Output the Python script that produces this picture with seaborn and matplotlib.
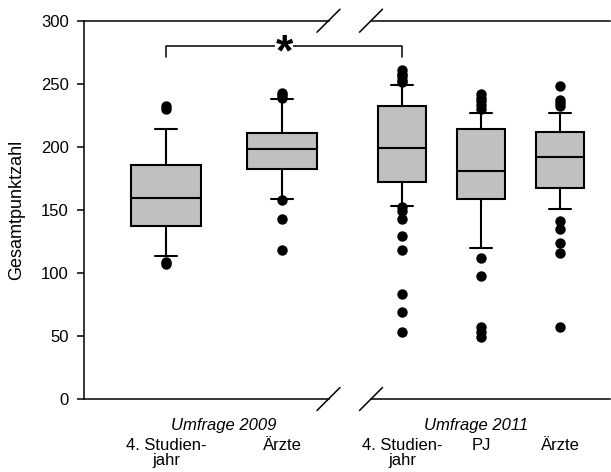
import numpy as np
import pandas as pd
import matplotlib
matplotlib.use("Agg")
import matplotlib.pyplot as plt
import matplotlib.transforms as mtransforms
from matplotlib.lines import Line2D
import seaborn as sns

# ---------------- data ----------------
groups_2009 = ["4. Studien-\njahr", "Ärzte"]
groups_2011 = ["4. Studien-\njahr", "PJ", "Ärzte"]

# five-number summaries (whisker low, Q1, median, Q3, whisker high)
whisker_low_2009 = [113.6, 158.6]
q1_2009 = [137.0, 182.2]
median_2009 = [159.6, 198.3]
q3_2009 = [185.8, 210.7]
whisker_high_2009 = [214.0, 237.7]

whisker_low_2011 = [153.3, 119.5, 150.7]
q1_2011 = [172.4, 158.6, 167.4]
median_2011 = [199.3, 180.8, 192.2]
q3_2011 = [232.4, 214.1, 211.5]
whisker_high_2011 = [249.0, 227.1, 226.6]

# single points beyond the whiskers
outliers_2009 = [
    [232, 230, 109, 107],
    [243, 241, 239, 157.5, 143, 118],
]
outliers_2011 = [
    [261, 258, 256, 253, 251, 152, 149, 143, 129, 118, 83, 69, 53],
    [242, 239, 236, 233, 230, 111.5, 97.5, 57, 53, 49],
    [248, 237, 234.5, 232, 141, 135, 124, 116, 57],
]

survey_labels = ["Umfrage 2009", "Umfrage 2011"]
y_label = "Gesamtpunktzahl"
y_ticks = [0, 50, 100, 150, 200, 250, 300]


def box_frame(groups, lo, a, m, b, hi):
    rows = []
    for g, v0, v1, v2, v3, v4 in zip(groups, lo, a, m, b, hi):
        for v in (v0, v1, v2, v3, v4):
            rows.append({"group": g, "value": v})
    return pd.DataFrame(rows)


def outlier_frame(groups, outs):
    rows = []
    for g, vals in zip(groups, outs):
        for v in vals:
            rows.append({"group": g, "value": v})
    return pd.DataFrame(rows)


box_2009 = box_frame(groups_2009, whisker_low_2009, q1_2009, median_2009, q3_2009, whisker_high_2009)
box_2011 = box_frame(groups_2011, whisker_low_2011, q1_2011, median_2011, q3_2011, whisker_high_2011)
out_2009 = outlier_frame(groups_2009, outliers_2009)
out_2011 = outlier_frame(groups_2011, outliers_2011)

# ---------------- style ----------------
sns.set_style("ticks")
plt.rcParams["font.family"] = ["Liberation Sans", "DejaVu Sans"]
plt.rcParams["axes.edgecolor"] = "black"
plt.rcParams["axes.linewidth"] = 1.1
for key in ("text.color", "axes.labelcolor", "xtick.color", "ytick.color"):
    plt.rcParams[key] = "black"

W, H = 611, 472
fig = plt.figure(figsize=(W / 100, H / 100), dpi=100)
ax1 = fig.add_axes([84 / W, 73 / H, 244.5 / W, 378.3 / H])
ax2 = fig.add_axes([371 / W, 73 / H, 239 / W, 378.3 / H])

box_kw = dict(x="group", y="value", whis=(0, 100), showfliers=False,
              color="#c0c0c0", saturation=1, linecolor="black",
              linewidth=1.5, width=0.6)
strip_kw = dict(x="group", y="value", jitter=False, color="black", size=7.5)

sns.boxplot(data=box_2009, order=groups_2009, ax=ax1, capwidths=0.19, **box_kw)
sns.stripplot(data=out_2009, order=groups_2009, ax=ax1, **strip_kw)
sns.boxplot(data=box_2011, order=groups_2011, ax=ax2, capwidths=0.28, **box_kw)
sns.stripplot(data=out_2011, order=groups_2011, ax=ax2, **strip_kw)

for ax in (ax1, ax2):
    ax.set_ylim(0, 300)
    ax.set_xlabel("")
    ax.tick_params(axis="x", length=0, pad=28, labelsize=12)
    for lab in ax.get_xticklabels():
        lab.set_linespacing(1.0)
    ax.spines["right"].set_visible(False)

ax1.set_xlim(-0.707, 1.401)
ax2.set_xlim(-0.392, 2.633)

ax1.set_yticks(y_ticks)
ax1.tick_params(axis="y", length=5, width=1.1, pad=6, labelsize=12)
ax1.set_ylabel(y_label, fontsize=13, labelpad=11)

ax2.spines["left"].set_visible(False)
ax2.tick_params(axis="y", left=False, labelleft=False)
ax2.set_ylabel("")

# survey labels
ax1.text(0.5, -0.082, survey_labels[0], transform=ax1.get_xaxis_transform(),
         ha="center", va="baseline", fontsize=12, style="italic")
ax2.text(0.94, -0.082, survey_labels[1], transform=ax2.get_xaxis_transform(),
         ha="center", va="baseline", fontsize=12, style="italic")

# axis break marks
inv = fig.transFigure.inverted()
def to_fig(ax, x, y):
    return inv.transform(ax.transAxes.transform((x, y)))

for ax, xa in ((ax1, 1.0), (ax2, 0.0)):
    for ya in (0.0, 1.0):
        cx, cy = to_fig(ax, xa, ya)
        dx, dy = 11.5 / W, 11.5 / H
        fig.add_artist(Line2D([cx - dx, cx + dx], [cy - dy, cy + dy],
                              transform=fig.transFigure, color="black", lw=1.1))

# significance bracket between first boxes of both surveys
def data_fig(ax, x, y):
    return inv.transform(ax.transData.transform((x, y)))

x0, ytop = data_fig(ax1, 0, 280)
_, ylow = data_fig(ax1, 0, 271.5)
x1, _ = data_fig(ax2, 0, 280)
fig.add_artist(Line2D([x0, x0, x1, x1], [ylow, ytop, ytop, ylow],
                      transform=fig.transFigure, color="black", lw=1.1))
off = mtransforms.ScaledTranslation(0, -0.08, fig.dpi_scale_trans)
fig.text((x0 + x1) / 2, ytop, "*", ha="center", va="center", fontsize=32,
         fontweight="bold", color="black", transform=fig.transFigure + off,
         bbox=dict(facecolor="white", edgecolor="none", pad=0.3))

fig.savefig("out.png", dpi=100)
